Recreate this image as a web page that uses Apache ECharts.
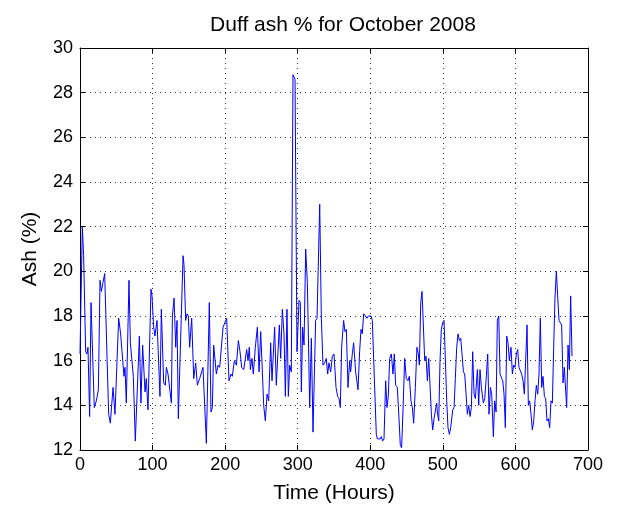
<!DOCTYPE html>
<html>
<head>
<meta charset="utf-8">
<script src="https://cdn.jsdelivr.net/npm/echarts@6/dist/echarts.min.js"></script>
<style>
html,body{margin:0;padding:0;background:#fff;}
#chart{width:622px;height:509px;}
</style>
</head>
<body>
<div id="chart"></div>
<script>
// Time in hours
var hours = [0,3.2,5,7.8,9.6,11,13.3,15.2,19.7,22.5,25.3,27.6,29.4,31.7,34,39.5,41.8,45.5,48.2,53.3,56,58.3,60.6,62,63.8,67.5,69.4,71.7,73.5,76.2,81.8,84,86.3,89.6,91.4,93.7,97.8,99.2,101.5,103.3,106.1,110.2,112.1,115.3,
117.6,119,121.3,125.9,127.3,129.6,131.9,133.7,135.5,142,143.3,145.6,147.5,149.3,151.1,153.9,156.7,159.4,161.7,164.9,169.5,174.1,178.2,180.5,182.4,184.2,187.9,190.2,192.5,197.1,199.8,202.1,205.3,208.1,209.9,212.7,215.5,218.2,220.5,222.8,225.6,229.7,
231.5,233.3,234.7,237,238.8,241.6,244.4,246.7,249,250.8,253.1,255.4,257.7,260,262.7,264.6,268.2,270.5,274.7,276.5,278.8,281.1,283,285.2,287.1,288.9,291.2,293.5,296.3,299,300.4,301.8,303.6,305,306.8,308.7,311,313.3,316.5,318.8,321.1,324.7,326.6,330.3,332.5,334.8,337.1,339.4,341.3,343.1,345.4,347.7,350,352.8,
355,356.9,358.7,360.5,363.3,365.1,367,369.3,371.6,372.9,375.2,377.1,379.8,383.1,385.3,387.2,389,390.9,393.2,395.5,397.3,399.1,401,402.8,404.6,408.3,409.7,411.5,413.8,415.2,417,418.9,421.2,423,424.8,426.7,429,431.3,433.1,435,437.2,439.1,441.4,443.2,445,447.4,449.6,451.9,453.8,456.1,457.9,459.8,462.1,464.3,466.2,
467.6,469.5,471.3,473.1,475,476.8,478.7,480.5,482.3,484.2,486,487.8,489.7,491.5,492.4,494.3,496.1,497.9,499.8,501.6,503.5,505.3,507.1,509,510.8,513.6,515.4,517.2,519.1,520.9,522.8,524.6,526.4,528.3,530.1,532,533.8,535.6,537.5,539.3,541.1,543,544.8,547.6,549.4,551.2,553.1,555.8,557.7,559.5,561.8,563.6,565.5,567.3,569.6,571.4,573.3,575.1,577,578.8,580.6,582.5,584.3,586.1,
588,589.8,591.6,593.9,595.8,597.6,599.4,601.3,603.1,604.9,606.8,608.6,610.5,612.3,614.1,616,617.8,619.6,621.5,623.3,625.2,627,628.8,630.7,632.5,634.3,636.2,638,639.9,641.7,643.5,645.4,647.2,649,650.9,652.7,654.5,656.4,658.2,660.1,661.9,663.7,665.6,667.4,669.2,670.6,672.5,674.3,676.1,678];
// Ash percentage
var ash = [16.3,22,20.7,16.4,16.3,16.6,13.5,18.6,13.9,14.2,14.7,19.6,19.1,19.5,19.9,13.6,13.2,14.8,13.6,17.9,17.2,17.2,15.3,15.7,14.1,19.6,16.8,16.8,15.3,12.4,17.1,14.1,16.7,14.6,15.2,13.8,19.2,18.9,17.5,17.1,17.8,14.4,18.3,15.0,
14.9,15.7,15.4,14.1,18.0,18.8,16.6,17.8,13.4,20.7,20.3,17.8,18.1,18.0,16.6,17.9,15.2,15.9,14.9,15.2,15.7,12.3,18.6,13.7,13.9,16.7,15.4,15.8,15.7,17.5,17.5,17.9,15.1,15.4,15.3,16.0,15.8,16.9,16.4,15.7,15.6,16.5,
16.0,16.6,15.6,16.1,15.4,16.6,17.5,15.5,17.3,15.9,14.0,13.3,14.5,14.2,16.8,15.1,17.5,14.9,17.6,16.1,18.3,17.2,14.4,18.3,14.4,15.8,15.5,28.8,28.6,16.4,16.4,18.7,18.6,14.6,17.5,16.7,21.0,19.5,13.9,17.0,12.8,17.8,17.9,23.0,18.0,15.8,15.9,16.1,15.4,15.9,15.5,16.2,16.3,14.8,
14.4,14.3,13.9,16.6,17.8,17.3,17.4,14.8,16.0,15.5,16.3,16.8,15.5,14.7,16.4,17.4,17.2,18.1,18.1,17.9,18.0,18.0,18.0,17.8,17.8,12.7,12.5,12.5,12.5,12.6,12.4,12.5,15.1,13.9,14.4,16.1,16.3,15.4,16.3,14.9,14.8,13.7,12.2,12.1,13.7,16.1,15.2,15.1,15.3,14.2,13.9,13.2,14.8,16.6,16.3,
15.8,18.6,19.1,17.6,16.0,16.2,15.1,16.1,14.9,13.6,12.9,13.4,13.4,14.1,13.7,13.3,16.0,17.4,17.7,17.8,16.0,14.2,13.0,12.7,13.0,13.8,13.9,15.2,16.6,17.2,16.9,17.0,16.3,15.5,15.4,14.5,13.6,14.0,13.5,13.9,16.4,14.5,14.3,15.6,14.0,15.6,14.8,14.1,14.3,15.1,16.3,13.6,14.8,14.5,12.6,14.2,13.7,17.8,18.0,15.4,15.4,15.1,14.5,13.0,
17.1,16.8,16.0,16.6,15.4,15.8,15.7,16.3,16.5,15.7,15.7,15.4,15.1,14.5,16.0,17.6,14.0,14.2,13.6,12.9,13.3,14.2,14.9,14.5,15.4,17.9,14.8,15.3,14.4,14.3,13.3,13.4,13.0,14.2,14.1,16.6,18.8,20.0,18.9,17.8,17.8,17.6,15.0,15.7,15.7,13.9,16.7,15.6,18.9,16.2];
var xTicks = [0,100,200,300,400,500,600,700];
var yTicks = [12,14,16,18,20,22,24,26,28,30];

var data = hours.map(function(h,i){return [h, ash[i]];});
var chart = echarts.init(document.getElementById('chart'), null, {renderer:'canvas'});
var fontFam = '"Liberation Sans", Arial, Helvetica, sans-serif';
var gridLine = {show:true, lineStyle:{color:'#000', type:[1,4], width:1, opacity:0.8}};
var axLine = {show:true, onZero:false, lineStyle:{color:'#000', width:1}};
var tick = {show:true, inside:true, length:5, lineStyle:{color:'#000'}};
chart.setOption({
  animation:false,
  backgroundColor:'#fff',
  title:{text:'Duff ash % for October 2008', left:338, top:10, textAlign:'center',
    textStyle:{fontFamily:fontFam, fontSize:21, fontWeight:'normal', color:'#000'}},
  grid:{left:80, right:34, top:48, bottom:59, containLabel:false},
  xAxis:[{type:'value', min:xTicks[0], max:xTicks[xTicks.length-1], interval:100, position:'bottom',
      name:'Time (Hours)', nameLocation:'middle', nameGap:33,
      nameTextStyle:{fontFamily:fontFam, fontSize:21, color:'#000'},
      axisLine:axLine, axisTick:tick, splitLine:gridLine,
      axisLabel:{fontFamily:fontFam, fontSize:18, color:'#000', margin:6}},
    {type:'value', min:0, max:700, interval:100, position:'top',
      axisLine:axLine, axisTick:tick, splitLine:{show:false}, axisLabel:{show:false}}],
  yAxis:[{type:'value', min:yTicks[0], max:yTicks[yTicks.length-1], interval:2, position:'left',
      name:'Ash (%)', nameLocation:'middle', nameGap:39, nameRotate:90,
      nameTextStyle:{fontFamily:fontFam, fontSize:21, color:'#000'},
      axisLine:axLine, axisTick:tick, splitLine:gridLine,
      axisLabel:{fontFamily:fontFam, fontSize:18, color:'#000', margin:7}},
    {type:'value', min:12, max:30, interval:2, position:'right',
      axisLine:axLine, axisTick:tick, splitLine:{show:false}, axisLabel:{show:false}}],
  series:[{type:'line', data:data, xAxisIndex:0, yAxisIndex:0, showSymbol:false, symbol:'none',
    lineStyle:{color:'#0000ff', width:1}, itemStyle:{color:'#0000ff'}}]
});
</script>
</body>
</html>
